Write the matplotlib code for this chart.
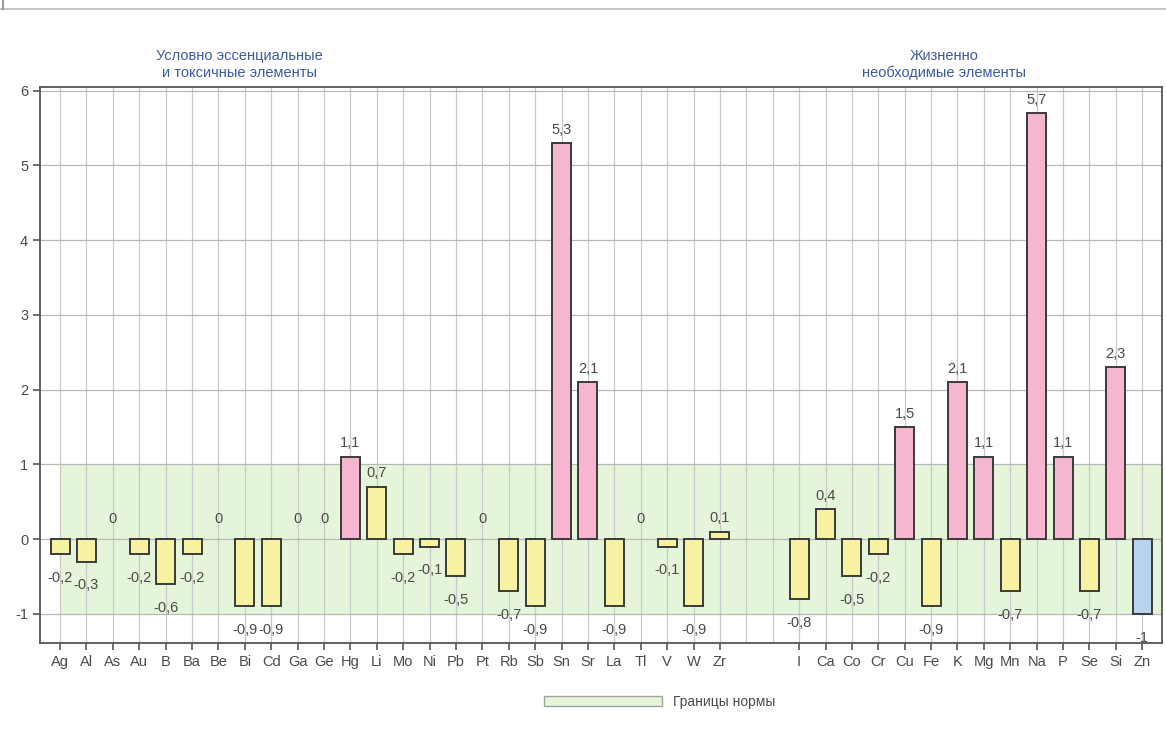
import matplotlib
matplotlib.use('Agg')
import matplotlib.pyplot as plt
from matplotlib.patches import Patch
from matplotlib.lines import Line2D

plt.rcParams['font.family'] = ['Liberation Sans', 'DejaVu Sans']

# --- данные
left_elements = ['Ag', 'Al', 'As', 'Au', 'B', 'Ba', 'Be', 'Bi', 'Cd', 'Ga', 'Ge', 'Hg', 'Li',
                 'Mo', 'Ni', 'Pb', 'Pt', 'Rb', 'Sb', 'Sn', 'Sr', 'La', 'Tl', 'V', 'W', 'Zr']
left_values = [-0.2, -0.3, 0, -0.2, -0.6, -0.2, 0, -0.9, -0.9, 0, 0, 1.1, 0.7,
               -0.2, -0.1, -0.5, 0, -0.7, -0.9, 5.3, 2.1, -0.9, 0, -0.1, -0.9, 0.1]

right_elements = ['I', 'Ca', 'Co', 'Cr', 'Cu', 'Fe', 'K', 'Mg', 'Mn', 'Na', 'P', 'Se', 'Si', 'Zn']
right_values = [-0.8, 0.4, -0.5, -0.2, 1.5, -0.9, 2.1, 1.1, -0.7, 5.7, 1.1, -0.7, 2.3, -1]

group_titles = ['Условно эссенциальные\nи токсичные элементы',
                'Жизненно\nнеобходимые элементы']
norm_low, norm_high = -1, 1
gap = 2  # пустые позиции между группами

# позиции столбцов
left_x = list(range(len(left_elements)))
right_x = [len(left_elements) + gap + i for i in range(len(right_elements))]
all_x = left_x + right_x
all_names = left_elements + right_elements
all_values = left_values + right_values

yellow = '#f6f2a2'
pink = '#f6b6cf'
blue = '#b9d3ec'
green = '#e4f5da'
text_color = '#4a4a4a'


def bar_color(v):
    if v > norm_high:
        return pink
    if v <= norm_low:
        return blue
    return yellow


fig = plt.figure(figsize=(11.66, 7.29), dpi=100)
ax = fig.add_axes([0.0343, 0.118, 0.9623, 0.7627])

# зона нормы
ax.axhspan(norm_low, norm_high, xmin=0.018, color=green, zorder=0, lw=0)

# сетка
for gx in range(all_x[-1] + 1):
    ax.axvline(gx, color='#c8c8c8', lw=0.9, zorder=0.5)
for gy in range(-1, 7):
    ax.axhline(gy, color='#b8b8b8', lw=0.9, zorder=0.5)

# нулевые значения столбцом не рисуются
bx = [x for x, v in zip(all_x, all_values) if v != 0]
bv = [v for v in all_values if v != 0]
ax.bar(bx, bv, width=0.72, color=[bar_color(v) for v in bv],
       edgecolor='#3a3a3a', linewidth=1.4, zorder=2)

# подписи значений
for x, v in zip(all_x, all_values):
    txt = ('%g' % v).replace('.', ',')
    if v > 0:
        y = v + 0.18
    elif v < 0:
        y = v - 0.32
    else:
        y = 0.27
    ax.text(x, y, txt, ha='center', va='center', fontsize=10.5, color=text_color, zorder=3)

ax.set_xlim(-0.76, all_x[-1] + 0.75)
ax.set_ylim(-1.39, 6.05)
ax.set_xticks(all_x)
ax.set_xticklabels(all_names, fontsize=10.5, color=text_color)
ax.set_yticks(range(-1, 7))
ax.set_yticklabels([str(i) for i in range(-1, 7)], fontsize=10.5, color=text_color)
ax.tick_params(axis='both', direction='out', length=5, color='#555555', width=1.2)
for s in ax.spines.values():
    s.set_color('#555555')
    s.set_linewidth(1.3)

# заголовки групп
title_color = '#3c5aa6'
ax.text(6.8, 6.14, group_titles[0], ha='center', va='bottom', fontsize=10.5,
        color=title_color, linespacing=1.25, clip_on=False)
ax.text(33.5, 6.14, group_titles[1], ha='center', va='bottom', fontsize=10.5,
        color=title_color, linespacing=1.25, clip_on=False)

# легенда
fig.legend(handles=[Patch(facecolor=green, edgecolor='#a0a0a0', label='Границы нормы')],
           loc='center', bbox_to_anchor=(0.566, 0.037), frameon=False, fontsize=10,
           handlelength=8.5, handleheight=0.7, labelcolor=text_color)

# рамка окна сверху
fig.add_artist(Line2D([0, 1], [0.988, 0.988], color='#bbbbbb', lw=1.2))
fig.add_artist(Line2D([0.003, 0.003], [0.988, 1], color='#888888', lw=1.2))

fig.savefig('out.png', dpi=100, facecolor='white')
